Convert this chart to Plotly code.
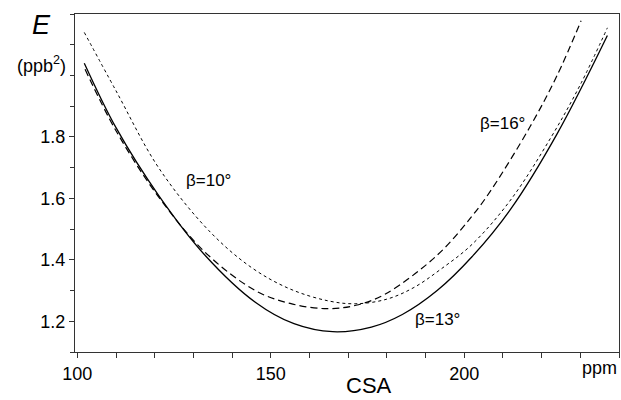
import plotly.graph_objects as go

# beta = 13 deg (solid)
x13 = [101.8, 110, 121, 133, 146, 156, 166, 176, 184, 193, 202, 212, 224, 237]
y13 = [2.04, 1.83, 1.61, 1.415, 1.262, 1.192, 1.166, 1.181, 1.222, 1.30, 1.41, 1.565, 1.81, 2.13]

# beta = 16 deg (dashed)
x16 = [102, 110, 121, 133, 146, 155, 164.5, 172, 179.5, 193, 202, 207, 217, 224, 230.2]
y16 = [2.02, 1.82, 1.605, 1.425, 1.30, 1.258, 1.241, 1.252, 1.288, 1.415, 1.542, 1.628, 1.833, 2.00, 2.178]

# beta = 10 deg (dotted)
x10 = [101.8, 110, 121, 134, 145, 155, 165, 172, 180, 187, 194, 202, 212, 222.5, 230, 237]
y10 = [2.14, 1.95, 1.70, 1.495, 1.375, 1.305, 1.266, 1.257, 1.272, 1.31, 1.37, 1.45, 1.595, 1.80, 1.97, 2.155]

xticks = [100, 150, 200]
yticks = [1.2, 1.4, 1.6, 1.8]

labels = [
    dict(text="β=10°", x=134, y=1.658),
    dict(text="β=16°", x=209.9, y=1.843),
    dict(text="β=13°", x=193.1, y=1.206),
]

FONT = "Liberation Sans, Arial, Helvetica, sans-serif"

fig = go.Figure()
fig.add_trace(go.Scatter(x=x10, y=y10, mode="lines", line=dict(color="black", width=1, dash="dot", shape="spline")))
fig.add_trace(go.Scatter(x=x16, y=y16, mode="lines", line=dict(color="black", width=1.2, dash="7px,4px", shape="spline")))
fig.add_trace(go.Scatter(x=x13, y=y13, mode="lines", line=dict(color="black", width=1.3, shape="spline")))

for lb in labels:
    fig.add_annotation(text=lb["text"], x=lb["x"], y=lb["y"], showarrow=False,
                       font=dict(size=17, color="black", family=FONT))

fig.add_annotation(text="<i>E</i>", xref="paper", yref="paper", x=-0.0616, y=0.967, xanchor="center",
                   yanchor="middle", showarrow=False, font=dict(size=27, color="black", family=FONT))
fig.add_annotation(text="(ppb<sup>2</sup>)", xref="paper", yref="paper", x=-0.0616, y=0.85,
                   xanchor="center", yanchor="middle", showarrow=False,
                   font=dict(size=18, color="black", family=FONT))
fig.add_annotation(text="ppm", xref="paper", yref="paper", x=1.0, xanchor="right", y=-0.047,
                   yanchor="middle", showarrow=False, font=dict(size=18, color="black", family=FONT))
fig.add_annotation(text="CSA", xref="paper", yref="paper", x=0.54, xanchor="center", y=-0.142,
                   yanchor="bottom", showarrow=False, font=dict(size=22, color="black", family=FONT))

fig.update_layout(
    width=621, height=400,
    margin=dict(l=75, r=2, t=14, b=48),
    paper_bgcolor="white", plot_bgcolor="white",
    showlegend=False,
    font=dict(family=FONT, color="black", size=18),
    xaxis=dict(
        range=[99.4, 240], tickvals=xticks, ticks="outside", ticklen=5, tickwidth=1,
        tickcolor="#333", showline=True, linecolor="#333", linewidth=1, mirror=True,
        showgrid=False, zeroline=False, automargin=False,
        minor=dict(dtick=10, tick0=100, ticks="outside", ticklen=5, tickcolor="#333", showgrid=False),
        tickfont=dict(size=18),
    ),
    yaxis=dict(
        range=[1.1, 2.2], tickvals=yticks, ticks="outside", ticklen=5,
        tickwidth=1, tickcolor="#333", showline=True, linecolor="#333", linewidth=1, mirror=True,
        showgrid=False, zeroline=False, automargin=False,
        minor=dict(dtick=0.1, tick0=1.1, ticks="outside", ticklen=4, tickcolor="#333", showgrid=False),
        tickfont=dict(size=18),
    ),
)

fig.write_html("out.html", config={"displayModeBar": False},
               post_script="document.body.style.margin='0';document.body.style.padding='0';")
